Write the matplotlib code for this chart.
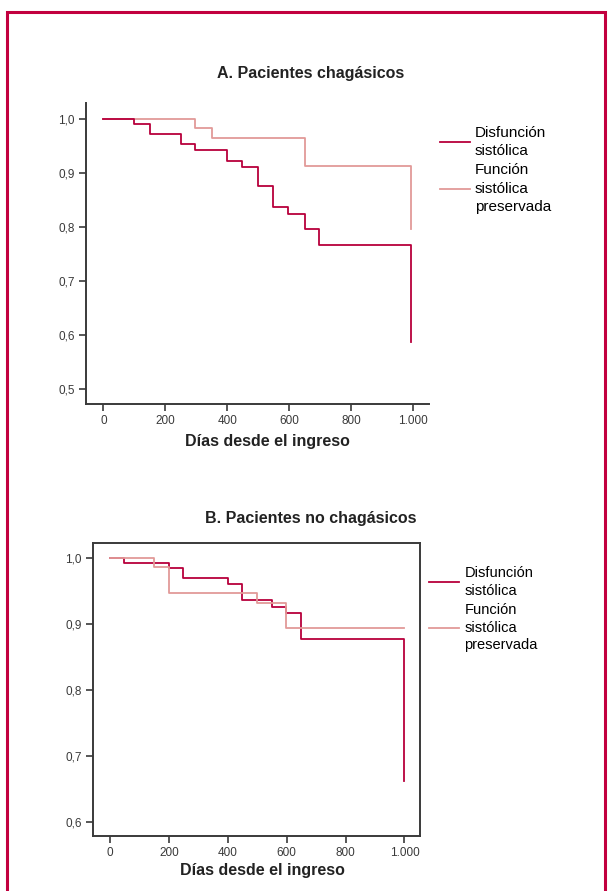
import numpy as np
import matplotlib.pyplot as plt
from matplotlib.patches import Rectangle

plt.rcParams['font.family'] = ['Liberation Sans', 'DejaVu Sans']

# Panel A: chagasic patients (days, survival)
a_dis_days = [0, 99, 151, 250, 297, 400, 448, 500, 547, 598, 651, 698, 995]
a_dis_surv = [1.0, 0.991, 0.972, 0.954, 0.942, 0.921, 0.910, 0.875, 0.837, 0.824, 0.797, 0.767, 0.587]
a_pres_days = [0, 297, 350, 651, 995]
a_pres_surv = [1.0, 0.983, 0.964, 0.913, 0.797]

# Panel B: non-chagasic patients
b_dis_days = [0, 48, 199, 249, 399, 449, 549, 599, 648, 999]
b_dis_surv = [1.0, 0.993, 0.985, 0.970, 0.962, 0.937, 0.927, 0.917, 0.878, 0.662]
b_pres_days = [0, 148, 199, 499, 599, 999]
b_pres_surv = [1.0, 0.987, 0.947, 0.932, 0.895, 0.895]

x_ticks = [0, 200, 400, 600, 800, 1000]
x_labels = ['0', '200', '400', '600', '800', '1.000']
a_y_ticks = [0.5, 0.6, 0.7, 0.8, 0.9, 1.0]
a_y_labels = ['0,5', '0,6', '0,7', '0,8', '0,9', '1,0']
b_y_ticks = [0.6, 0.7, 0.8, 0.9, 1.0]
b_y_labels = ['0,6', '0,7', '0,8', '0,9', '1,0']

labels = ['Disfunción\nsistólica', 'Función\nsistólica\npreservada']
dark = '#b8003c'
light = '#e29a98'
axis_col = '#3a3a3a'

fig = plt.figure(figsize=(6.1, 8.91), dpi=100)

# red frame around the figure (bottom edge cut off)
fig.add_artist(Rectangle((0.011, -0.05), 0.98, 1.037, transform=fig.transFigure,
                         fill=False, edgecolor='#c2003f', linewidth=2.2))


def style_axes(ax, yt, yl, xlim, ylim, box):
    ax.set_xlim(*xlim)
    ax.set_ylim(*ylim)
    ax.set_xticks(x_ticks)
    ax.set_xticklabels(x_labels)
    ax.set_yticks(yt)
    ax.set_yticklabels(yl)
    ax.tick_params(direction='out', length=5, width=1.2, colors=axis_col,
                   labelsize=8.5, pad=3)
    for side in ['left', 'bottom', 'top', 'right']:
        ax.spines[side].set_color(axis_col)
        ax.spines[side].set_linewidth(1.4)
    if not box:
        ax.spines['top'].set_visible(False)
        ax.spines['right'].set_visible(False)


def spaced_legend(leg, spacing):
    for t in leg.get_texts():
        t.set_linespacing(spacing)


# ---- Panel A ----
axA = fig.add_axes([0.1405, 0.5466, 0.5633, 0.3378])
axA.step(a_pres_days, a_pres_surv, where='post', color=light, linewidth=1.3, label=labels[1])
axA.step(a_dis_days, a_dis_surv, where='post', color=dark, linewidth=1.3, label=labels[0])
style_axes(axA, a_y_ticks, a_y_labels, (-57, 1053), (0.473, 1.029), box=False)
hA, lA = axA.get_legend_handles_labels()
legA = axA.legend(hA[::-1], lA[::-1], loc='upper left', bbox_to_anchor=(0.721, 0.859),
                  bbox_transform=fig.transFigure, frameon=False, fontsize=11,
                  handlelength=2.0, handletextpad=0.3, labelspacing=0.35,
                  borderpad=0, borderaxespad=0)
spaced_legend(legA, 1.4)
fig.text(0.51, 0.917, 'A. Pacientes chagásicos', ha='center', va='center',
         fontsize=11.5, fontweight='bold', color='#222222')
fig.text(0.438, 1 - 442 / 891, 'Días desde el ingreso', ha='center', va='center',
         fontsize=11.5, fontweight='bold', color='#222222')

# ---- Panel B ----
axB = fig.add_axes([0.152, 0.0617, 0.5366, 0.3285])
axB.step(b_dis_days, b_dis_surv, where='post', color=dark, linewidth=1.3, label=labels[0])
axB.step(b_pres_days, b_pres_surv, where='post', color=light, linewidth=1.3, label=labels[1])
style_axes(axB, b_y_ticks, b_y_labels, (-59, 1053), (0.579, 1.023), box=True)
legB = axB.legend(loc='upper left', bbox_to_anchor=(0.704, 0.365),
                  bbox_transform=fig.transFigure, frameon=False, fontsize=10.5,
                  handlelength=2.0, handletextpad=0.4, labelspacing=0.35,
                  borderpad=0, borderaxespad=0)
spaced_legend(legB, 1.35)
fig.text(0.51, 1 - 518 / 891, 'B. Pacientes no chagásicos', ha='center', va='center',
         fontsize=11.5, fontweight='bold', color='#222222')
fig.text(0.43, 1 - 870 / 891, 'Días desde el ingreso', ha='center', va='center',
         fontsize=11.5, fontweight='bold', color='#222222')

plt.savefig('out.png', dpi=100)
